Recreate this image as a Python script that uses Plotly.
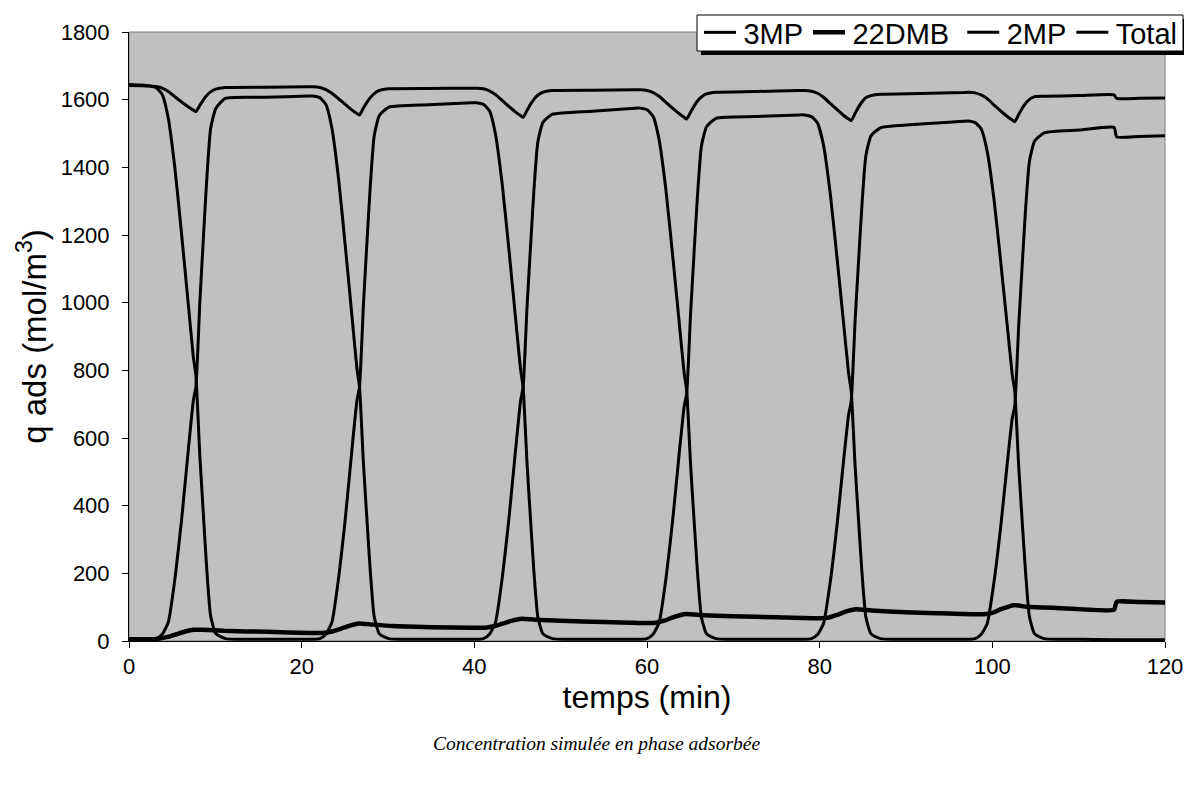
import plotly.graph_objects as go

# shared time grid (min) for 3MP, 2MP and Total
temps = [
    0, 1.5, 2.35, 3.15, 3.85, 4.55, 5.35, 6.1, 6.85, 7.45, 7.75, 8.2, 8.6, 9.0, 9.45, 10.05, 11.15, 15.75, 20.75,
    21.3, 22.1, 22.8, 23.5, 24.3, 25.05, 25.8, 26.4, 26.7, 27.15, 27.55, 27.95, 28.4, 29.0, 30.1, 34.7, 39.7,
    40.25, 41.05, 41.75, 42.45, 43.25, 44.0, 44.75, 45.35, 45.65, 46.1, 46.5, 46.9, 47.35, 47.95, 49.05, 53.65, 58.65,
    59.2, 60.0, 60.7, 61.4, 62.2, 62.95, 63.7, 64.3, 64.6, 65.05, 65.45, 65.85, 66.3, 66.9, 68.0, 72.6, 77.6,
    78.25, 79.05, 79.75, 80.45, 81.25, 82.0, 82.75, 83.35, 83.65, 84.1, 84.5, 84.9, 85.35, 85.95, 87.05, 91.65, 96.65,
    97.2, 98.0, 98.7, 99.4, 100.2, 100.95, 101.7, 102.3, 102.6, 103.05, 103.45, 103.85, 104.3, 104.9, 106.0, 110.0,
    114.1, 114.4, 117.0, 120.0,
]

q_3mp = [
    1642, 1641, 1640, 1635, 1615, 1545, 1390, 1200, 1000, 840, 785, 550, 380, 215, 75, 22, 7, 5, 5,
    5, 7, 20, 55, 190, 360, 560, 710, 751, 992, 1173, 1346, 1493, 1553, 1578, 1585, 1591,
    1591, 1586, 1567, 1498, 1345, 1158, 961, 804, 750, 527, 363, 206, 72, 21, 7, 5, 5,
    5, 7, 20, 54, 185, 351, 546, 692, 732, 969, 1147, 1317, 1462, 1520, 1545, 1550, 1555,
    1555, 1550, 1531, 1465, 1317, 1135, 945, 792, 740, 520, 358, 203, 71, 21, 7, 5, 5,
    5, 7, 19, 51, 176, 333, 518, 657, 695, 930, 1107, 1276, 1419, 1478, 1502, 1510,
    1518, 1490, 1491, 1493,
]

q_2mp = [
    3, 3, 4, 7, 20, 55, 190, 360, 560, 710, 751, 998, 1184, 1362, 1513, 1574, 1604, 1607, 1611,
    1611, 1606, 1586, 1516, 1360, 1168, 967, 806, 751, 527, 363, 206, 72, 21, 7, 5, 5,
    5, 7, 20, 55, 190, 360, 558, 708, 750, 985, 1162, 1331, 1474, 1533, 1557, 1566, 1575,
    1575, 1570, 1551, 1482, 1331, 1145, 950, 793, 740, 520, 358, 203, 71, 21, 7, 5, 5,
    5, 7, 19, 52, 179, 340, 528, 669, 708, 944, 1121, 1290, 1434, 1493, 1517, 1528, 1536,
    1537, 1532, 1514, 1448, 1304, 1126, 939, 789, 738, 518, 357, 203, 71, 21, 7, 5,
    4, 4, 4, 4,
]

q_total = [
    1645, 1643, 1641, 1639, 1634, 1624, 1608, 1593, 1579, 1569, 1565, 1583, 1599, 1612, 1623, 1631, 1636, 1637, 1638,
    1638, 1636, 1630, 1619, 1602, 1586, 1570, 1559, 1555, 1575, 1592, 1606, 1618, 1627, 1632, 1633, 1634,
    1634, 1632, 1626, 1615, 1597, 1580, 1564, 1553, 1548, 1568, 1586, 1601, 1613, 1622, 1627, 1628, 1629,
    1629, 1627, 1621, 1610, 1592, 1575, 1559, 1548, 1543, 1563, 1581, 1596, 1608, 1617, 1622, 1624, 1627,
    1627, 1625, 1619, 1607, 1588, 1571, 1554, 1543, 1538, 1559, 1578, 1593, 1606, 1612, 1616, 1618, 1621,
    1622, 1620, 1614, 1603, 1584, 1567, 1551, 1540, 1535, 1556, 1574, 1589, 1601, 1609, 1610, 1612,
    1614, 1604, 1604, 1605,
]

temps_22dmb = [
    0, 2.5, 3.2, 4.5, 5.5, 6.5, 7.5, 8.5, 11, 16, 21, 22.5, 23.5, 24.5, 25.5, 26.6, 28, 30.5, 35, 40,
    41.5, 42.5, 43.5, 44.5, 45.5, 47, 50, 55, 60, 61, 62, 63, 64.5, 66, 70, 75, 80,
    81, 82, 83, 84.2, 86, 90, 95, 99, 100, 101, 102.5, 104, 108, 114.1, 114.4, 117, 120,
]
q_22dmb = [
    5, 5, 6, 12, 20, 28, 33, 33, 30, 27, 24, 24, 28, 36, 45, 52, 49, 44, 41, 39,
    40, 45, 53, 61, 66, 63, 60, 56, 53, 54, 60, 70, 80, 77, 73, 70, 67,
    69, 77, 87, 94, 90, 85, 81, 79, 83, 94, 106, 101, 97, 93, 116, 115, 114,
]

x_ticks = [0, 20, 40, 60, 80, 100, 120]
y_ticks = [0, 200, 400, 600, 800, 1000, 1200, 1400, 1600, 1800]

HS = "\u200a"   # hair space: small gap between legend line and text
NB = "\u00a0"
line_kw = dict(shape="spline", smoothing=0.5)

fig = go.Figure()
fig.add_trace(go.Scatter(x=temps, y=q_3mp, mode="lines", name=HS + "3MP",
                         line=dict(color="black", width=3, **line_kw)))
fig.add_trace(go.Scatter(x=temps_22dmb, y=q_22dmb, mode="lines", name=HS + "22DMB" + NB,
                         line=dict(color="black", width=4.5, **line_kw)))
fig.add_trace(go.Scatter(x=temps, y=q_2mp, mode="lines", name=HS + "2MP",
                         line=dict(color="black", width=3, **line_kw)))
fig.add_trace(go.Scatter(x=temps, y=q_total, mode="lines", name=HS + "Total",
                         line=dict(color="black", width=3, **line_kw)))

# page is shown with an 8 px body margin: screen = figure + 8
OFF = 8
W, H = 1192, 787
L, R, T, B = 129 - OFF, 35, 32 - OFF, 154
pw, ph = W - L - R, H - T - B

def px_x(p):  # p in screen px
    return (p - OFF - L) / pw

def px_y(p):
    return (H - B - (p - OFF)) / ph

# legend shadow and box
fig.add_shape(type="rect", xref="paper", yref="paper",
              x0=px_x(701), x1=px_x(1187), y0=px_y(55), y1=px_y(19),
              fillcolor="black", line=dict(width=0), layer="above")
fig.add_shape(type="rect", xref="paper", yref="paper",
              x0=px_x(697), x1=px_x(1183), y0=px_y(51), y1=px_y(15),
              fillcolor="white", line=dict(color="black", width=1), layer="above")
# plot area border (gray)
fig.add_shape(type="rect", xref="paper", yref="paper", x0=0, x1=1, y0=0, y1=1,
              line=dict(color="#808080", width=1), layer="below")

fig.update_layout(
    width=W, height=H,
    margin=dict(l=L, r=R, t=T, b=B, autoexpand=False),
    paper_bgcolor="white",
    plot_bgcolor="#C0C0C0",
    font=dict(family="Liberation Sans, Arial, sans-serif", color="black"),
    showlegend=True,
    legend=dict(
        orientation="h",
        x=px_x(699), xanchor="left",
        y=px_y(7), yanchor="top",
        bgcolor="rgba(0,0,0,0)", borderwidth=0,
        font=dict(size=29, family="Liberation Sans, Arial, sans-serif"),
        itemwidth=32, tracegroupgap=0,
    ),
    xaxis=dict(
        range=[0, 120], tickvals=x_ticks, ticktext=[str(v) for v in x_ticks],
        showgrid=False, zeroline=False, showline=True, linecolor="black", linewidth=1,
        ticks="outside", ticklen=6, tickcolor="black", ticklabelstandoff=0,
        tickfont=dict(size=22), automargin=False,
        title=dict(text="temps (min)", font=dict(size=32), standoff=0),
    ),
    yaxis=dict(
        range=[0, 1800], tickvals=y_ticks, ticktext=[str(v) for v in y_ticks],
        showgrid=False, zeroline=False, showline=True, linecolor="black", linewidth=1,
        ticks="outside", ticklen=6, tickcolor="black", ticklabelstandoff=8,
        tickfont=dict(size=22), automargin=False,
        title=dict(text="q ads (mol/m<sup>3</sup>)", font=dict(size=33), standoff=4),
    ),
)

fig.add_annotation(
    text="<i>Concentration simulée en phase adsorbée</i>",
    xref="paper", yref="paper", x=px_x(596), y=px_y(743),
    xanchor="center", yanchor="middle", showarrow=False,
    font=dict(family="Liberation Serif, Times New Roman, serif", size=19.5, color="black"),
)

fig.write_html("out.html")
